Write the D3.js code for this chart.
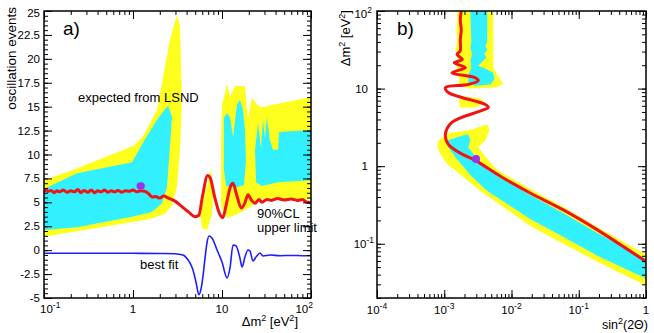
<!DOCTYPE html>
<html>
<head>
<meta charset="utf-8">
<script src="https://cdn.jsdelivr.net/npm/d3@7"></script>
<style>
  body { margin: 0; background: #fff; }
  text { font-family: "Liberation Sans", Arial, sans-serif; fill: #000; }
</style>
</head>
<body>
<svg id="chart" width="654" height="333"></svg>
<script>
// ---- panel a: expected oscillation events vs dm2 ----
// allowed regions [dm2, events]
const aYellowLeft = [[0.1,7.3],[0.24,8.6],[1.0,10.9],[1.3,11.9],[1.86,14.65],[2.6,22.0],[3.12,24.6],[3.37,23.5],[3.55,15.7],[3.37,10.5],[3.12,6.6],[2.74,4.7],[2.29,3.8],[1.55,3.25],[0.975,2.95],[0.1,1.4]];
const aCyanLeft = [[0.1,6.4],[0.235,8.05],[0.975,9.2],[1.33,11.4],[1.91,13.8],[2.47,15.1],[2.74,14.0],[2.6,10.8],[2.41,6.6],[2.12,4.9],[1.63,4.0],[0.975,3.5],[0.235,2.4],[0.1,2.1]];
const aYellowSpike = [[7.5,8.4],[8.1,6.3],[7.7,3.7],[6.8,2.1],[6.0,2.3],[5.7,3.7],[6.4,5.8]];
const aYellowRight = [[9.75,4.7],[9.75,11.5],[10.0,15.2],[11.4,17.4],[12.3,16.0],[14.0,17.15],[18.1,17.15],[19.6,13.8],[21.7,15.9],[26.7,14.9],[100,16.0],[100,5.35],[25.4,5.35],[22.3,4.7],[18.1,4.2],[15.1,3.8],[11.7,3.35],[10.3,4.0]];
const aCyanMid = [[10.5,13.9],[11.4,14.3],[12.3,13.9],[13.3,11.8],[14.7,15.2],[15.9,15.7],[17.2,14.65],[18.1,12.6],[18.6,9.4],[17.7,6.8],[14.0,6.5],[11.1,6.7],[10.5,8.4]];
const aCyanRight = [[23.5,10.5],[25.4,13.3],[27.4,10.7],[28.9,13.6],[30.4,11.7],[32.0,13.9],[34.6,11.5],[37.4,10.5],[42.6,10.5],[43.7,12.35],[100,12.55],[100,7.3],[42.6,7.1],[28.1,6.7],[24.1,7.1]];

// 90%CL upper limit [dm2, events]
const aLimit = [[0.1,6.1],[0.105,6.35],[0.11,6.15],[0.12,6.25],[0.13,6.0],[0.14,6.2],[0.15,6.1],[0.165,6.3],[0.18,6.05],[0.2,6.2],[0.22,6.1],[0.24,6.35],[0.26,6.0],[0.28,6.25],[0.31,6.05],[0.34,6.3],[0.37,6.0],[0.4,6.2],[0.44,6.1],[0.48,6.3],[0.52,6.05],[0.57,6.2],[0.62,6.1],[0.68,6.25],[0.75,6.05],[0.82,6.2],[0.9,6.15],[1.0,6.3],[1.1,6.1],[1.2,6.2],[1.35,6.15],[1.5,5.9],[1.65,5.55],[1.8,5.6],[2.0,5.45],[2.2,5.65],[2.5,5.45],[3.0,5.1],[3.5,4.6],[4.2,4.0],[5.0,3.5],[5.5,3.65],[6.0,5.5],[6.9,7.8],[7.4,7.5],[8.3,5.5],[9.3,3.9],[10.2,3.4],[11.3,5.0],[12.5,6.7],[13.3,7.0],[14.5,5.9],[16.5,4.4],[18.0,4.9],[19.6,5.8],[21.5,5.2],[23.5,4.9],[26,5.3],[28,5.0],[32,5.3],[36,5.2],[42,5.4],[50,5.25],[60,5.35],[70,5.2],[80,5.3],[90,5.0],[100,4.95]];

// best fit [dm2, events]
const aBestFit = [[0.1,-0.33],[1,-0.33],[2,-0.35],[2.96,-0.37],[3.65,-0.51],[3.94,-0.75],[4.37,-1.34],[4.72,-2.07],[5.1,-3.33],[5.5,-4.65],[5.8,-4.1],[6.1,-2.8],[6.45,-0.8],[6.8,0.85],[7.15,1.48],[7.7,1.27],[8.8,0.02],[10.0,-1.24],[11.4,-2.9],[12.3,-1.86],[13.3,0.54],[14.4,0.44],[15.9,-0.82],[16.8,-1.76],[18.1,-0.72],[19.6,0.02],[20.6,-0.09],[22.3,-1.13],[24.1,-0.72],[26.7,-0.3],[28.9,-0.61],[34.6,-0.51],[45,-0.58],[60,-0.55],[80,-0.58],[100,-0.58]];

const aPoint = [1.22, 6.71];

const aYTicks = [-5,-2.5,0,2.5,5,7.5,10,12.5,15,17.5,20,22.5,25];
const aXTicks = [[0.1,"10","-1"],[1,"1",""],[10,"10",""],[100,"10","2"]];

// ---- panel b: dm2 vs sin^2(2theta) ----
// [sin2, dm2]
const bYellowTop = [[1.56e-3,100],[5.36e-3,100],[5.36e-3,18.6],[6.15e-3,15.1],[7.55e-3,11.6],[5.94e-3,10.3],[2.44e-3,10.0],[1.62e-3,10.9],[1.67e-3,13.4],[1.51e-3,17.5],[1.62e-3,23.5],[1.46e-3,31.6],[1.56e-3,42.5],[1.51e-3,57],[1.56e-3,77]];
const bCyanTop = [[2.44e-3,100],[4.37e-3,100],[4.37e-3,40.1],[4.08e-3,35.6],[4.37e-3,31.6],[3.94e-3,28.1],[4.22e-3,25.0],[3.68e-3,22.2],[3.21e-3,19.7],[4.08e-3,18.0],[5.36e-3,16.0],[5.55e-3,13.0],[4.84e-3,11.25],[2.89e-3,10.9],[2.28e-3,11.9],[2.28e-3,15.1],[2.53e-3,18.6],[2.44e-3,23.5],[2.61e-3,27.3],[2.44e-3,33.5],[2.53e-3,40.1]];
const bYellowBlob = [[1.62e-3,7.0],[2.13e-3,7.9],[3.44e-3,7.45],[3.94e-3,6.6],[3.0e-3,5.7],[1.73e-3,5.7]];
const bYellowLow = [[8.16e-4,2.15],[1.15e-3,2.65],[2.61e-3,2.98],[4.37e-3,3.46],[4.68e-3,2.89],[4.08e-3,2.15],[3.21e-3,1.75],[4.37e-3,1.23],[6.15e-3,0.89],[0.019,0.507],[0.0589,0.298],[0.189,0.165],[1,0.0723],[1,0.0289],[0.189,0.0588],[0.0589,0.100],[0.019,0.170],[3.44e-3,0.478],[1.92e-3,0.723],[1.11e-3,1.06],[8.74e-4,1.425],[7.88e-4,1.80]];
const bCyanLow = [[1.11e-3,2.15],[1.92e-3,2.50],[2.28e-3,2.57],[2.44e-3,2.15],[2.28e-3,1.75],[3.10e-3,1.23],[6.15e-3,0.744],[0.019,0.425],[0.0589,0.250],[0.189,0.138],[1,0.0642],[1,0.0356],[0.189,0.0702],[0.0589,0.123],[0.019,0.209],[4.37e-3,0.478],[2.44e-3,0.767],[1.46e-3,1.30],[1.15e-3,1.75]];
const bLimit = [[1.79e-3,100],[1.73e-3,76.7],[1.79e-3,57],[1.73e-3,42.5],[1.73e-3,30.7],[1.55e-3,27.5],[1.86e-3,23.7],[1.41e-3,21.5],[2.06e-3,18.6],[1.30e-3,16.0],[2.89e-3,13.8],[3.21e-3,12.7],[2.28e-3,11.3],[1.04e-3,10.3],[1.15e-3,8.9],[4.08e-3,6.23],[4.52e-3,5.71],[3.64e-3,5.22],[1.30e-3,3.66],[1.04e-3,2.57],[1.15e-3,1.91],[1.84e-3,1.43],[2.89e-3,1.19],[7.22e-3,0.72],[0.019,0.451],[0.0589,0.273],[0.189,0.151],[1,0.059]];
const bPoint = [2.97e-3, 1.24];

const bXTicks = [[1e-4,"10","-4"],[1e-3,"10","-3"],[1e-2,"10","-2"],[1e-1,"10","-1"],[1,"1",""]];
const bYTicks = [[0.1,"10","-1"],[1,"1",""],[10,"10",""],[100,"10","2"]];

const YELLOW = '#ffff1e', CYAN = '#33f0ff', RED = '#f01414', BLUE = '#1e1eff', PURPLE = '#9933f0';

const svg = d3.select('#chart');

const xA = d3.scaleLog().domain([0.1, 100]).range([44, 311]);
const yA = d3.scaleLinear().domain([-5, 25]).range([298, 11]);
const xB = d3.scaleLog().domain([1e-4, 1]).range([377, 646]);
const yB = d3.scaleLog().domain([0.02, 100]).range([298, 11]);

const defs = svg.append('defs');
defs.append('clipPath').attr('id', 'clipA').append('rect')
  .attr('x', 44).attr('y', 11).attr('width', 267).attr('height', 287);
defs.append('clipPath').attr('id', 'clipB').append('rect')
  .attr('x', 377).attr('y', 11).attr('width', 269).attr('height', 287);

function area(g, data, xs, ys, fill) {
  g.append('path')
    .attr('d', d3.line().x(d => xs(d[0])).y(d => ys(d[1])).curve(d3.curveLinearClosed)(data))
    .attr('fill', fill);
}

// ---- panel a ----
const gA = svg.append('g').attr('clip-path', 'url(#clipA)');
area(gA, aYellowLeft, xA, yA, YELLOW);
area(gA, aYellowSpike, xA, yA, YELLOW);
area(gA, aYellowRight, xA, yA, YELLOW);
area(gA, aCyanLeft, xA, yA, CYAN);
area(gA, aCyanMid, xA, yA, CYAN);
area(gA, aCyanRight, xA, yA, CYAN);

gA.append('path')
  .attr('d', d3.line().x(d => xA(d[0])).y(d => yA(d[1])).curve(d3.curveMonotoneX)(aBestFit))
  .attr('fill', 'none').attr('stroke', BLUE).attr('stroke-width', 1.6);
gA.append('path')
  .attr('d', d3.line().x(d => xA(d[0])).y(d => yA(d[1])).curve(d3.curveMonotoneX)(aLimit))
  .attr('fill', 'none').attr('stroke', RED).attr('stroke-width', 3).attr('stroke-linejoin', 'round');
gA.append('ellipse')
  .attr('cx', xA(aPoint[0])).attr('cy', yA(aPoint[1]))
  .attr('rx', 4.2).attr('ry', 3.6).attr('fill', PURPLE);

// ---- panel b ----
const gB = svg.append('g').attr('clip-path', 'url(#clipB)');
area(gB, bYellowTop, xB, yB, YELLOW);
area(gB, bYellowBlob, xB, yB, YELLOW);
area(gB, bYellowLow, xB, yB, YELLOW);
area(gB, bCyanTop, xB, yB, CYAN);
area(gB, bCyanLow, xB, yB, CYAN);
gB.append('path')
  .attr('d', d3.line().x(d => xB(d[0])).y(d => yB(d[1])).curve(d3.curveCatmullRom.alpha(0.5))(bLimit))
  .attr('fill', 'none').attr('stroke', RED).attr('stroke-width', 3).attr('stroke-linejoin', 'round');
gB.append('circle')
  .attr('cx', xB(bPoint[0])).attr('cy', yB(bPoint[1]))
  .attr('r', 4).attr('fill', PURPLE);

// ---- frames and ticks ----
function frame(xs, ys, yMinor) {
  const [x0, x1] = xs.range(), [y0, y1] = ys.range();
  const xMajor = xs.ticks().filter(v => Math.abs(Math.log10(v) - Math.round(Math.log10(v))) < 1e-9);
  const xMinor = xs.ticks();
  const isLogY = typeof ys.base === 'function';
  const yAll = isLogY ? ys.ticks() : ys.ticks(yMinor);
  const yMaj = isLogY
    ? yAll.filter(v => Math.abs(Math.log10(v) - Math.round(Math.log10(v))) < 1e-9)
    : yAll.filter(v => Math.abs(v / 2.5 - Math.round(v / 2.5)) < 1e-9);

  const add = (axis, tr) => {
    const g = svg.append('g').attr('transform', tr).call(axis);
    g.select('.domain').remove();
    g.selectAll('line').attr('stroke', '#000').attr('stroke-width', 1);
    g.selectAll('text').remove();
  };
  [[xMinor, 4], [xMajor, 8]].forEach(([vals, len]) => {
    add(d3.axisBottom(xs).tickValues(vals).tickSize(-len).tickSizeOuter(0), `translate(0,${y0})`);
    add(d3.axisTop(xs).tickValues(vals).tickSize(-len).tickSizeOuter(0), `translate(0,${y1})`);
  });
  [[yAll, 4], [yMaj, 8]].forEach(([vals, len]) => {
    add(d3.axisLeft(ys).tickValues(vals).tickSize(-len).tickSizeOuter(0), `translate(${x0},0)`);
    add(d3.axisRight(ys).tickValues(vals).tickSize(-len).tickSizeOuter(0), `translate(${x1},0)`);
  });

  svg.append('rect')
    .attr('x', x0).attr('y', y1).attr('width', x1 - x0).attr('height', y0 - y1)
    .attr('fill', 'none').attr('stroke', '#000').attr('stroke-width', 1.5);
}
frame(xA, yA, 60);
frame(xB, yB);

function powLabel(x, y, base, exp, anchor) {
  const t = svg.append('text').attr('x', x).attr('y', y)
    .attr('text-anchor', anchor).style('font-size', '11.5px');
  t.append('tspan').text(base);
  if (exp) t.append('tspan').attr('dy', -5).style('font-size', '8.5px').text(exp);
  return t;
}

// panel a tick labels
aYTicks.forEach(v => {
  svg.append('text').attr('x', 40).attr('y', Math.max(yA(v) + 4, 17))
    .attr('text-anchor', 'end').style('font-size', '11.5px').text(v);
});
aXTicks.forEach((d, i) => {
  let x = xA(d[0]), anchor = 'middle';
  if (i === 0) { x -= 4; anchor = 'start'; }
  if (i === aXTicks.length - 1) { x += 2; anchor = 'end'; }
  powLabel(x, 313, d[1], d[2], anchor);
});

// panel b tick labels
bXTicks.forEach(d => powLabel(xB(d[0]), 314, d[1], d[2], 'middle'));
bYTicks.forEach(d => {
  const exp = d[2];
  const x = exp === '' ? 368 : (exp.length > 1 ? 374 : 372);
  powLabel(x, Math.max(yB(d[0]) + 4, 18), d[1], exp, 'end');
});

// titles
function dm2Title(t) {
  t.append('tspan').text('\u0394m');
  t.append('tspan').attr('dy', -5).style('font-size', '9px').text('2');
  t.append('tspan').attr('dy', 5).text(' [eV');
  t.append('tspan').attr('dy', -5).style('font-size', '9px').text('2');
  t.append('tspan').attr('dy', 5).text(']');
}
svg.append('text').attr('transform', 'translate(15.5,7) rotate(-90)')
  .attr('text-anchor', 'end').style('font-size', '13.5px').text('oscillation events');
dm2Title(svg.append('text').attr('x', 298).attr('y', 326)
  .attr('text-anchor', 'end').style('font-size', '13px'));
dm2Title(svg.append('text').attr('transform', 'translate(350,10) rotate(-90)')
  .attr('text-anchor', 'end').style('font-size', '13px'));
const st = svg.append('text').attr('x', 648).attr('y', 328.5)
  .attr('text-anchor', 'end').style('font-size', '12.5px');
st.append('tspan').text('sin');
st.append('tspan').attr('dy', -5).style('font-size', '9px').text('2');
st.append('tspan').attr('dy', 5).text('(2\u0398)');

// panel labels and annotations
svg.append('text').attr('x', 63).attr('y', 35).style('font-size', '19px').text('a)');
svg.append('text').attr('x', 397).attr('y', 35).style('font-size', '19px').text('b)');
svg.append('text').attr('x', 78).attr('y', 102).style('font-size', '13px').text('expected from LSND');
svg.append('text').attr('x', 257).attr('y', 218).style('font-size', '13px').text('90%CL');
svg.append('text').attr('x', 257).attr('y', 232).style('font-size', '13px').text('upper limit');
svg.append('text').attr('x', 140).attr('y', 269).style('font-size', '13px').text('best fit');
</script>
</body>
</html>
